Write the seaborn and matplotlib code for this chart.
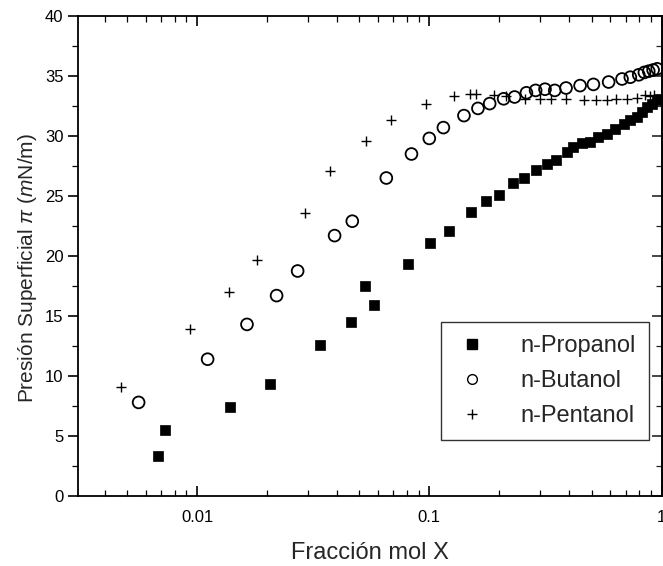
import matplotlib
matplotlib.use("Agg")
import matplotlib.pyplot as plt
import seaborn as sns
import pandas as pd
from matplotlib.ticker import FixedLocator, FixedFormatter, MultipleLocator, LogLocator, NullFormatter
from matplotlib.lines import Line2D

# ---- data ----
prop_x = [0.0068, 0.0073, 0.0139, 0.0206, 0.0338, 0.0459, 0.0527, 0.0578, 0.0806, 0.101,
          0.121, 0.151, 0.176, 0.200, 0.230, 0.255, 0.287, 0.320, 0.353, 0.391,
          0.416, 0.454, 0.493, 0.535, 0.582, 0.632, 0.687, 0.734, 0.785, 0.825,
          0.867, 0.912, 0.957, 0.99]
prop_y = [3.3, 5.5, 7.4, 9.3, 12.6, 14.5, 17.5, 15.9, 19.3, 21.1,
          22.1, 23.7, 24.6, 25.1, 26.1, 26.5, 27.2, 27.7, 28.0, 28.7,
          29.1, 29.4, 29.5, 29.9, 30.2, 30.6, 31.0, 31.3, 31.6, 32.0,
          32.4, 32.7, 33.0, 33.1]

but_x = [0.0056, 0.0111, 0.0164, 0.0220, 0.0271, 0.0391, 0.0466, 0.0653, 0.0838, 0.100,
         0.115, 0.141, 0.162, 0.182, 0.209, 0.233, 0.262, 0.287, 0.315, 0.347,
         0.388, 0.446, 0.509, 0.592, 0.676, 0.734, 0.798, 0.844, 0.881, 0.920, 0.958]
but_y = [7.8, 11.4, 14.3, 16.7, 18.75, 21.7, 22.9, 26.5, 28.5, 29.8,
         30.7, 31.7, 32.3, 32.7, 33.1, 33.25, 33.6, 33.8, 33.9, 33.8,
         34.0, 34.2, 34.3, 34.5, 34.75, 34.9, 35.1, 35.3, 35.4, 35.5, 35.6]

pent_x = [0.0047, 0.0093, 0.0137, 0.0182, 0.0292, 0.0372, 0.0535, 0.0687, 0.0964, 0.128,
          0.150, 0.159, 0.190, 0.215, 0.258, 0.299, 0.333, 0.388, 0.465, 0.523,
          0.582, 0.638, 0.711, 0.785, 0.853, 0.889, 0.926]
pent_y = [9.1, 13.9, 17.0, 19.7, 23.6, 27.1, 29.55, 31.3, 32.7, 33.3,
          33.5, 33.5, 33.4, 33.3, 33.1, 33.1, 33.1, 33.1, 33.0, 33.0,
          33.0, 33.1, 33.1, 33.2, 33.4, 33.3, 33.4]

series_names = ["n-Propanol", "n-Butanol", "n-Pentanol"]
x_tick_vals = [0.01, 0.1, 1]
x_tick_labels = ["0.01", "0.1", "1"]
y_tick_vals = [0, 5, 10, 15, 20, 25, 30, 35, 40]

# ---- plot ----
sns.set_style("white")
plt.rcParams['font.family'] = ['Liberation Sans', 'DejaVu Sans']
plt.rcParams['mathtext.fontset'] = 'custom'
plt.rcParams['mathtext.rm'] = 'Liberation Sans'
plt.rcParams['mathtext.it'] = 'Liberation Sans:italic'

fig = plt.figure(figsize=(6.63, 5.66), dpi=100)
ax = fig.add_axes([78 / 663, 1 - 496 / 566, (661.5 - 78) / 663, (496 - 16) / 566])

df_p = pd.DataFrame({"x": prop_x, "y": prop_y})
df_b = pd.DataFrame({"x": but_x, "y": but_y})
df_n = pd.DataFrame({"x": pent_x, "y": pent_y})

sns.scatterplot(data=df_p, x="x", y="y", ax=ax, marker="s", s=48, color="black",
                edgecolor="black", linewidth=0.5, legend=False)
sns.scatterplot(data=df_b, x="x", y="y", ax=ax, marker="o", s=72, facecolor="none",
                edgecolor="black", linewidth=1.3, legend=False)
sns.scatterplot(data=df_n, x="x", y="y", ax=ax, marker="+", s=55, color="black",
                linewidth=1.0, legend=False)

ax.set_xscale("log")
ax.set_xlim(0.00307, 1.0)
ax.set_ylim(0, 40)

ax.xaxis.set_major_locator(FixedLocator(x_tick_vals))
ax.xaxis.set_major_formatter(FixedFormatter(x_tick_labels))
ax.xaxis.set_minor_locator(LogLocator(base=10, subs=range(2, 10)))
ax.xaxis.set_minor_formatter(NullFormatter())
ax.yaxis.set_major_locator(FixedLocator(y_tick_vals))
ax.yaxis.set_minor_locator(MultipleLocator(2.5))

for s in ax.spines.values():
    s.set_color("black")
    s.set_linewidth(1.3)

ax.tick_params(axis="x", which="both", direction="in", top=True, bottom=True,
               labelsize=12, pad=10, colors="black")
ax.tick_params(axis="x", which="major", length=7, width=1.2)
ax.tick_params(axis="x", which="minor", length=4, width=0.9)
ax.tick_params(axis="y", which="both", direction="out", left=True, right=False,
               labelsize=12, colors="black")
ax.tick_params(axis="y", which="major", length=7, width=1.2)
ax.tick_params(axis="y", which="minor", length=4, width=0.9)

# right-side inward ticks
ax2 = ax.secondary_yaxis("right")
ax2.yaxis.set_major_locator(FixedLocator(y_tick_vals))
ax2.yaxis.set_minor_locator(MultipleLocator(2.5))
ax2.tick_params(axis="y", which="both", direction="in", labelright=False)
ax2.tick_params(axis="y", which="major", length=7, width=1.2)
ax2.tick_params(axis="y", which="minor", length=4, width=0.9)
ax2.spines["right"].set_linewidth(1.3)

ax.set_xlabel("Fracción mol X", fontsize=17, labelpad=12)
ax.set_ylabel(r"Presión Superficial $\pi$ ($m$N/m)", fontsize=15, labelpad=0)
ax.yaxis.set_label_coords(-0.066, 0.475)

handles = [
    Line2D([], [], linestyle="none", marker="s", markersize=7, color="black"),
    Line2D([], [], linestyle="none", marker="o", markersize=7, markerfacecolor="none",
           markeredgecolor="black", markeredgewidth=1.0),
    Line2D([], [], linestyle="none", marker="+", markersize=7, color="black",
           markeredgewidth=1.0),
]
leg = ax.legend(handles, series_names, loc="lower right", bbox_to_anchor=(0.978, 0.117),
                frameon=True, fancybox=False, shadow=False, fontsize=17,
                handletextpad=1.3, borderpad=0.55, labelspacing=0.55, borderaxespad=0,
                handlelength=1.5)
leg.get_frame().set_edgecolor("black")
leg.get_frame().set_linewidth(1.0)

fig.savefig("out.png", dpi=100)
